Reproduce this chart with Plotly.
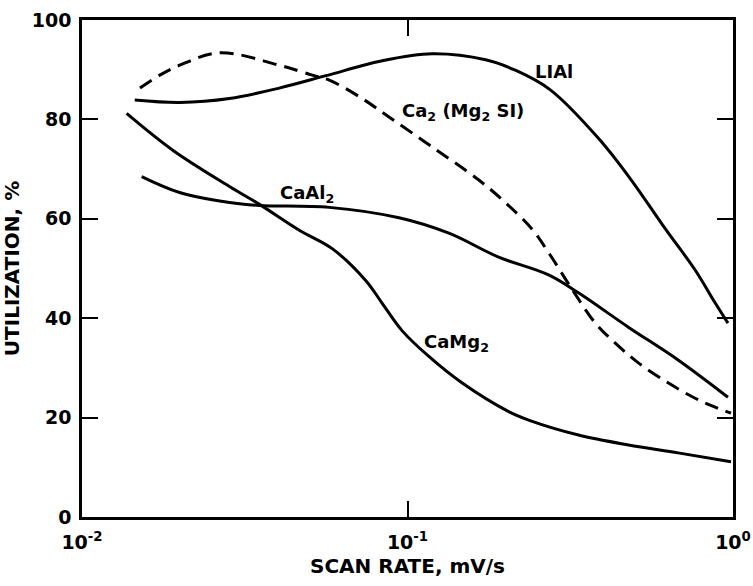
import plotly.graph_objects as go

# Utilization vs. scan rate for four alloy electrodes
liai_rate = [0.01452, 0.01995, 0.02838, 0.04036, 0.0562, 0.0836, 0.119, 0.1737, 0.2144,
             0.274, 0.386, 0.487, 0.619, 0.765, 0.881, 0.965]
liai_util = [83.9, 83.4, 84.2, 86.3, 88.8, 91.8, 93.2, 92.0, 89.9,
             86.0, 76.2, 67.8, 58.0, 49.7, 43.1, 39.0]

ca2mg2si_rate = [0.01507, 0.01734, 0.01995, 0.02648, 0.04036, 0.051, 0.0575, 0.0710, 0.0877,
                 0.1188, 0.1656, 0.2004, 0.2407, 0.2713, 0.319, 0.3778, 0.435, 0.512,
                 0.632, 0.765, 0.881, 0.986]
ca2mg2si_util = [86.3, 88.9, 90.9, 93.4, 90.9, 88.9, 87.9, 84.6, 80.5,
                 74.5, 67.8, 63.2, 58.0, 53.2, 46.0, 39.0, 35.0, 31.0,
                 27.0, 23.9, 22.1, 20.9]

caal2_rate = [0.01525, 0.01995, 0.02838, 0.0351, 0.0575, 0.0942, 0.134, 0.1905, 0.2713,
              0.335, 0.477, 0.678, 0.965]
caal2_util = [68.5, 65.3, 63.3, 62.7, 62.3, 60.2, 57.1, 52.3, 48.7,
              45.1, 38.2, 31.6, 24.1]

camg2_rate = [0.01371, 0.0190, 0.02838, 0.0351, 0.0465, 0.0587, 0.0746, 0.0836, 0.0962,
              0.1163, 0.1469, 0.2046, 0.2356, 0.335, 0.477, 0.678, 0.986]
camg2_util = [81.2, 73.8, 66.5, 62.9, 57.7, 54.0, 47.5, 43.0, 37.5,
              32.3, 27.0, 21.2, 19.5, 16.5, 14.5, 12.9, 11.1]

x_tick_vals = [0.01, 0.1, 1]
x_tick_text = ["10<sup>-2</sup>", "10<sup>-1</sup>", "10<sup>0</sup>"]
y_tick_vals = [0, 20, 40, 60, 80, 100]

FONT = "DejaVu Sans"
INK = "black"

fig = go.Figure()

solid = dict(color=INK, width=3, shape="spline", smoothing=1.0)
dashed = dict(color=INK, width=3, shape="spline", smoothing=1.0, dash="14px,8px")

fig.add_trace(go.Scatter(x=liai_rate, y=liai_util, mode="lines", line=solid, name="LiAl"))
fig.add_trace(go.Scatter(x=ca2mg2si_rate, y=ca2mg2si_util, mode="lines", line=dashed, name="Ca2(Mg2Si)"))
fig.add_trace(go.Scatter(x=caal2_rate, y=caal2_util, mode="lines", line=solid, name="CaAl2"))
fig.add_trace(go.Scatter(x=camg2_rate, y=camg2_util, mode="lines", line=solid, name="CaMg2"))

# Curve labels (x given in log10 units on the log axis)
labels = [
    ("LIAl", -0.550, 89.7),
    ("Ca<sub>2</sub> (Mg<sub>2</sub> SI)", -0.83, 81.5),
    ("CaAl<sub>2</sub>", -1.309, 65.0),
    ("CaMg<sub>2</sub>", -0.848, 35.0),
]
for text, lx, ly in labels:
    fig.add_annotation(x=lx, y=ly, xref="x", yref="y", text=text, showarrow=False,
                       font=dict(family=FONT, size=18, color=INK, weight="bold"))

axis_common = dict(
    showgrid=False, zeroline=False, automargin=False,
    showline=True, linecolor=INK, linewidth=2.5, mirror="ticks",
    ticks="inside", ticklen=16, tickwidth=2, tickcolor=INK,
    tickfont=dict(family=FONT, size=19, color=INK, weight="bold"),
)

fig.update_xaxes(type="log", range=[-2, 0], tickvals=x_tick_vals, ticktext=x_tick_text,
                 ticklabelstandoff=6,
                 title=dict(text="SCAN RATE, mV/s", standoff=8,
                            font=dict(family=FONT, size=20, color=INK, weight="bold")),
                 **axis_common)
fig.update_yaxes(range=[0, 100], tickvals=y_tick_vals, ticklabelstandoff=4,
                 title=dict(text="UTILIZATION, %", standoff=10,
                            font=dict(family=FONT, size=20, color=INK, weight="bold")),
                 **axis_common)

fig.update_layout(
    width=753, height=586,
    margin=dict(l=82, r=20, t=20, b=69),
    paper_bgcolor="white", plot_bgcolor="white",
    showlegend=False,
)

fig.write_html("out.html")
